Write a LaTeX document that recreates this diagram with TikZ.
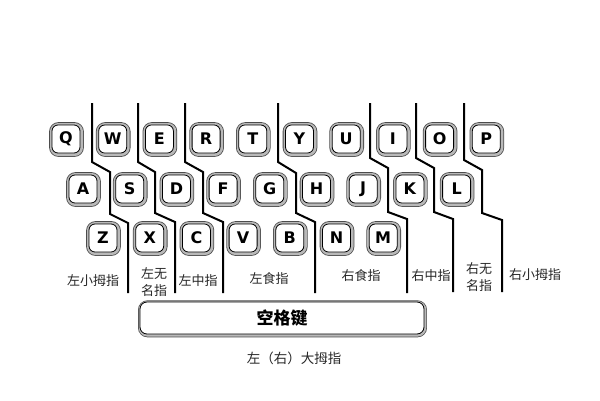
\documentclass[tikz,border=0pt]{standalone}
\usepackage{fontspec}
\newfontfamily\cjk{Noto Sans CJK SC}
\newfontfamily\keyfont{DejaVu Sans}
\usetikzlibrary{positioning}

\begin{document}
\begin{tikzpicture}[x=1pt,y=-1pt,node distance=46.7pt,
	keycap/.style={rectangle, rounded corners=6pt, draw=black, line width=0.8pt, fill=white,
		minimum width=28pt, minimum height=28pt, inner sep=0pt,
		font=\keyfont\bfseries\fontsize{16}{16}\selectfont,
		preaction={draw=gray!60!black, double=gray!55, double distance=5pt, line width=0.8pt,
			transform canvas={shift={(0.5pt,-0.5pt)}}}},
	barkey/.style={rectangle, rounded corners=7pt, draw=black, line width=0.8pt, fill=white,
		minimum width=284pt, minimum height=32pt, inner sep=0pt,
		font=\cjk\bfseries\fontsize{17}{17}\selectfont,
		preaction={draw=gray!60!black, double=gray!55, double distance=3.5pt, line width=0.7pt,
			transform canvas={shift={(0.5pt,-0.8pt)}}}},
	fingername/.style={font=\cjk\fontsize{13}{17}\selectfont, align=center, inner sep=0pt, text=black!85},
	divider/.style={line width=2pt, line join=miter}]
	\useasboundingbox (0,0) rectangle (600,400);

	% top row
	\node (q) [keycap] at (66,139) {Q};
	\node (w) [keycap, right of = q] {W};
	\node (e) [keycap, right of = w] {E};
	\node (r) [keycap, right of = e] {R};
	\node (t) [keycap, right of = r] {T};
	\node (y) [keycap, right of = t] {Y};
	\node (u) [keycap, right of = y] {U};
	\node (i) [keycap, right of = u] {I};
	\node (o) [keycap, right of = i] {O};
	\node (p) [keycap, right of = o] {P};

	% home row
	\node (a) [keycap] at (83,189) {A};
	\node (s) [keycap, right of = a] {S};
	\node (d) [keycap, right of = s] {D};
	\node (f) [keycap, right of = d] {F};
	\node (g) [keycap, right of = f] {G};
	\node (h) [keycap, right of = g] {H};
	\node (j) [keycap, right of = h] {J};
	\node (k) [keycap, right of = j] {K};
	\node (l) [keycap, right of = k] {L};

	% bottom row
	\node (z) [keycap] at (103,238) {Z};
	\node (x) [keycap, right of = z] {X};
	\node (c) [keycap, right of = x] {C};
	\node (v) [keycap, right of = c] {V};
	\node (b) [keycap, right of = v] {B};
	\node (n) [keycap, right of = b] {N};
	\node (m) [keycap, right of = n] {M};

	\node (space) [barkey] at (282,318) {空格键};
	\node (thumb) [fingername, font=\cjk\fontsize{13.5}{16}\selectfont] at (294,358) {左（右）大拇指};

	% finger zones
	\draw[divider] (92,103) -- (92,162) -- (110,172) -- (110,214) -- (128,223) -- (128,293);
	\draw[divider] (138,103) -- (138,162) -- (155,172) -- (155,213) -- (175,222) -- (175,293);
	\draw[divider] (185,103) -- (185,162) -- (203,172) -- (203,213) -- (223,222) -- (223,293);
	\draw[divider] (278,103) -- (278,162) -- (296,173) -- (296,213) -- (315,222) -- (315,293);
	\draw[divider] (370,103) -- (370,158) -- (388,168) -- (388,212) -- (407,219) -- (407,293);
	\draw[divider] (416,103) -- (416,158) -- (434,168) -- (434,212) -- (453,219) -- (453,292);
	\draw[divider] (464,103) -- (464,160) -- (482,170) -- (482,213) -- (502,220) -- (502,292);

	\node (lpinky) [fingername] at (93,281) {左小拇指};
	\node (lring) [fingername] at (154,282) {左无\\名指};
	\node (lmiddle) [fingername] at (198,281) {左中指};
	\node (lindex) [fingername] at (269,279) {左食指};
	\node (rindex) [fingername] at (361,276) {右食指};
	\node (rmiddle) [fingername] at (431,276) {右中指};
	\node (rring) [fingername] at (479,277) {右无\\名指};
	\node (rpinky) [fingername] at (535,275) {右小拇指};
\end{tikzpicture}
\end{document}
